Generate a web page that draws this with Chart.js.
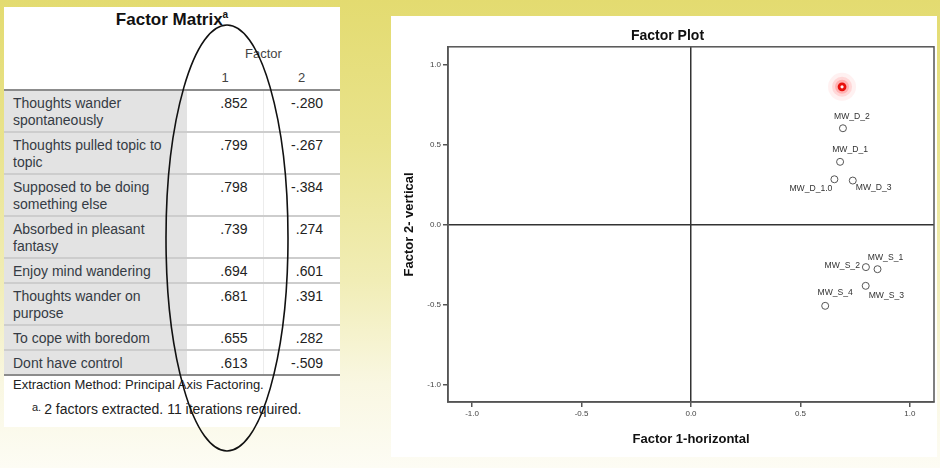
<!DOCTYPE html>
<html>
<head>
<meta charset="utf-8">
<script src="https://cdn.jsdelivr.net/npm/chart.js@4.4.1/dist/chart.umd.min.js"></script>
<style>
  html, body { margin: 0; padding: 0; }
  body {
    width: 940px; height: 468px; overflow: hidden; position: relative;
    font-family: Arial, "Liberation Sans", sans-serif;
    background: linear-gradient(to bottom, #e3db70 0%, #e9e38c 30%, #f1edb6 60%, #f9f7e2 82%, #fdfcf4 100%);
  }
  #matrixPanel {
    position: absolute; left: 4px; top: 7px; width: 336px; height: 420px;
    background: #fff;
  }
  #matrixTitle {
    position: absolute; left: 0; top: 2px; width: 336px; text-align: center;
    font-size: 17px; font-weight: bold; color: #111;
  }
  #matrixTitle sup { font-size: 10px; }
  #matrix {
    position: absolute; left: 0; top: 35px; width: 336px;
    border-collapse: collapse; table-layout: fixed;
    font-size: 14px; color: #353b44;
  }
  #matrix th { font-weight: normal; color: #444; font-size: 13px; padding: 0; }
  #matrix thead tr.top th { height: 23px; }
  #matrix thead tr.nums th { height: 24px; }
  #matrix td { padding: 4px 0 2px 0; line-height: 17px; vertical-align: top; border-top: 2px solid #cdcdcd; }
  #matrix tbody tr:first-child td { border-top-color: #8c8c8c; }
  #matrix tbody tr:last-child td { border-bottom: 2px solid #8c8c8c; }
  #matrix td.lab { background: #e3e3e3; padding-left: 9px; padding-right: 6px; }
  #matrix td.v1 { text-align: right; padding-right: 15px; border-right: 1px solid #ececec; color: #222; }
  #matrix td.v2 { text-align: right; padding-right: 17px; color: #222; }
  .note1 { position: absolute; left: 9px; top: 370px; font-size: 13px; color: #222; }
  .note2 { position: absolute; left: 28px; top: 394px; font-size: 14px; color: #222; }
  .note2 span { font-size: 11px; vertical-align: 3px; margin-right: 3px; }
  #plotPanel {
    position: absolute; left: 391px; top: 16px; width: 546px; height: 441px;
    background: #fff;
  }
  #plot { position: absolute; left: 391px; top: 16px; }
  #circle { position: absolute; left: 0; top: 0; pointer-events: none; }
</style>
</head>
<body>

<div id="matrixPanel">
  <div id="matrixTitle">Factor Matrix<sup>a</sup></div>
  <table id="matrix">
    <colgroup><col style="width:183px"><col style="width:76px"><col style="width:77px"></colgroup>
    <thead>
      <tr class="top"><th></th><th colspan="2">Factor</th></tr>
      <tr class="nums"><th></th><th>1</th><th>2</th></tr>
    </thead>
    <tbody id="matrixBody"></tbody>
  </table>
  <div class="note1">Extraction Method: Principal Axis Factoring.</div>
  <div class="note2"><span>a.</span>2 factors extracted. 11 iterations required.</div>
</div>

<div id="plotPanel"></div>
<canvas id="plot" width="557" height="440"></canvas>

<svg id="circle" width="940" height="468">
  <ellipse cx="227" cy="238" rx="61" ry="213" fill="none" stroke="#111" stroke-width="1.6"/>
</svg>

<script>
// items of the factor matrix, in table order
const itemLabels = [
  'Thoughts wander spontaneously',
  'Thoughts pulled topic to topic',
  'Supposed to be doing something else',
  'Absorbed in pleasant fantasy',
  'Enjoy mind wandering',
  'Thoughts wander on purpose',
  'To cope with boredom',
  'Dont have control'
];
const factor1 = [0.852, 0.799, 0.798, 0.739, 0.694, 0.681, 0.655, 0.613];
const factor2 = [-0.280, -0.267, -0.384, 0.274, 0.601, 0.391, 0.282, -0.509];
// names printed next to the points in the plot (same order)
const pointNames = ['MW_S_1', 'MW_S_2', 'MW_S_3', 'MW_D_3', 'MW_D_2', 'MW_D_1', 'MW_D_1.0', 'MW_S_4'];
const axisTicks = [-1.0, -0.5, 0.0, 0.5, 1.0];
// red pointer highlight seen in the plot
const pointerX = [0.69];
const pointerY = [0.86];

function fmt(v) {
  return v.toFixed(3).replace('0.', '.');
}

const tbody = document.getElementById('matrixBody');
itemLabels.forEach((lab, i) => {
  tbody.innerHTML += `
    <tr>
      <td class="lab">${lab}</td>
      <td class="v1">${fmt(factor1[i])}</td>
      <td class="v2">${fmt(factor2[i])}</td>
    </tr>`;
});

// label placement around each point: [dx, dy, align]
const labelPlace = [
  [8, -12, 'center'],
  [-6, -1, 'right'],
  [3, 10, 'left'],
  [3, 7, 'left'],
  [9, -12, 'center'],
  [10, -12, 'center'],
  [-2, 9, 'right'],
  [10, -13, 'center']
];

const pointLabels = {
  id: 'pointLabels',
  afterDatasetsDraw(chart) {
    const c = chart.ctx;
    const meta = chart.getDatasetMeta(0);
    c.save();
    c.font = '8.6px Arial, "Liberation Sans", sans-serif';
    c.fillStyle = '#333';
    c.textBaseline = 'middle';
    meta.data.forEach((pt, i) => {
      const p = labelPlace[i];
      c.textAlign = p[2];
      c.fillText(pointNames[i], pt.x + p[0], pt.y + p[1]);
    });
    c.restore();
  }
};

const frame = {
  id: 'frame',
  beforeDatasetsDraw(chart) {
    const a = chart.chartArea;
    const c = chart.ctx;
    c.save();
    c.strokeStyle = '#555';
    c.lineWidth = 1.5;
    c.strokeRect(a.left, a.top, a.right - a.left, a.bottom - a.top);
    c.restore();
  }
};

function axisOpts(titleText, titlePad) {
  return {
    type: 'linear',
    min: -1.11,
    max: 1.11,
    afterBuildTicks: s => { s.ticks = axisTicks.map(v => ({ value: v })); },
    ticks: {
      callback: v => v.toFixed(1),
      font: { size: 8, family: 'Arial, "Liberation Sans", sans-serif' },
      color: '#444',
      padding: 2,
      maxRotation: 0,
      autoSkip: false
    },
    grid: {
      color: ctx => (ctx.tick && ctx.tick.value === 0) ? '#333' : 'rgba(0,0,0,0)',
      lineWidth: 1.5,
      tickLength: 5,
      tickColor: '#555',
      tickWidth: 1.5
    },
    border: { display: true, color: '#555', width: 1.5 },
    title: {
      display: true,
      text: titleText,
      color: '#111',
      font: { size: 13, weight: 'bold', family: 'Arial, "Liberation Sans", sans-serif' },
      padding: titlePad
    }
  };
}

const xAxis = axisOpts('Factor 1-horizontal', { top: 4, bottom: 9 });
xAxis.afterFit = s => { s.height = 54; };
const yAxis = axisOpts('Factor 2- vertical', { top: 11, bottom: 0 });
yAxis.afterFit = s => { s.width = 57; };

const pointer = pointerX.map((x, i) => ({ x: x, y: pointerY[i] }));

new Chart(document.getElementById('plot'), {
  type: 'scatter',
  data: {
    datasets: [
      {
        data: factor1.map((x, i) => ({ x: x, y: factor2[i] })),
        pointRadius: 3.5,
        pointBorderWidth: 1,
        pointBorderColor: '#555',
        pointBackgroundColor: '#fff',
        order: 1
      },
      { data: pointer, pointRadius: 14, pointBorderWidth: 0, pointBackgroundColor: 'rgba(255,80,80,0.08)', order: 5 },
      { data: pointer, pointRadius: 10, pointBorderWidth: 0, pointBackgroundColor: 'rgba(255,60,60,0.14)', order: 4 },
      { data: pointer, pointRadius: 7, pointBorderWidth: 0, pointBackgroundColor: 'rgba(255,40,40,0.22)', order: 3 },
      { data: pointer, pointRadius: 3, pointBorderWidth: 2.8, pointBorderColor: '#e8100c', pointBackgroundColor: '#fff4f4', order: 2 }
    ]
  },
  options: {
    responsive: false,
    animation: false,
    layout: { padding: { left: 0, right: 4, top: 0, bottom: 0 } },
    plugins: {
      legend: { display: false },
      tooltip: { enabled: false },
      title: {
        display: true,
        text: 'Factor Plot',
        color: '#111',
        font: { size: 14, weight: 'bold', family: 'Arial, "Liberation Sans", sans-serif' },
        padding: { top: 12, bottom: 2 }
      }
    },
    scales: { x: xAxis, y: yAxis }
  },
  plugins: [frame, pointLabels]
});
</script>
</body>
</html>
